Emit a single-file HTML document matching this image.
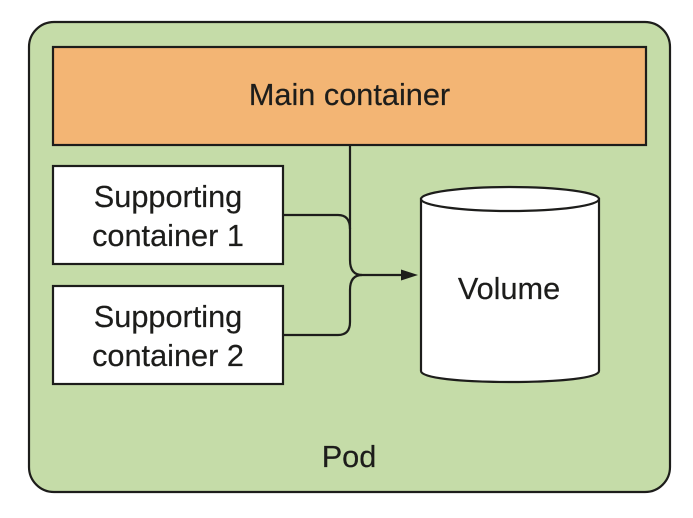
<!DOCTYPE html>
<html>
<head>
<meta charset="utf-8">
<style>
html,body{margin:0;padding:0;background:#fff;width:693px;height:518px;overflow:hidden}
svg{display:block}
text{font-family:"Liberation Sans",sans-serif;font-size:30.7px;fill:#1d1d1b;text-anchor:middle;stroke:#1d1d1b;stroke-width:0.2px}
</style>
</head>
<body>
<svg width="693" height="518" viewBox="0 0 693 518" xmlns="http://www.w3.org/2000/svg">
<rect x="29" y="22" width="641" height="470" rx="25" ry="25" fill="#c5dca8" stroke="#1d1d1b" stroke-width="2.2"/>
<rect x="53" y="47" width="593" height="98" fill="#f3b574" stroke="#1d1d1b" stroke-width="2.2"/>
<text x="349.5" y="105">Main container</text>
<rect x="53" y="166" width="230" height="98" fill="#fff" stroke="#1d1d1b" stroke-width="2.2"/>
<text x="168" y="207">Supporting</text>
<text x="168" y="246">container 1</text>
<rect x="53" y="286" width="230" height="98" fill="#fff" stroke="#1d1d1b" stroke-width="2.2"/>
<text x="168" y="327">Supporting</text>
<text x="168" y="366">container 2</text>
<path d="M350 145V260Q350 275 362 275H404" fill="none" stroke="#1d1d1b" stroke-width="2.2"/>
<path d="M283 215H338Q350 215 350 229" fill="none" stroke="#1d1d1b" stroke-width="2.2"/>
<path d="M283 335H338Q350 335 350 322V290Q350 275 362 275" fill="none" stroke="#1d1d1b" stroke-width="2.2"/>
<polygon points="401,269.5 418,275 401,280.5" fill="#1d1d1b"/>
<path d="M421 199V371C421 378 460 382 510 382C560 382 599 378 599 371V199Z" fill="#fff" stroke="#1d1d1b" stroke-width="2.2"/>
<ellipse cx="510" cy="199" rx="89" ry="12" fill="#fff" stroke="#1d1d1b" stroke-width="2.2"/>
<text x="509" y="299">Volume</text>
<text x="349" y="467">Pod</text>
</svg>
</body>
</html>
